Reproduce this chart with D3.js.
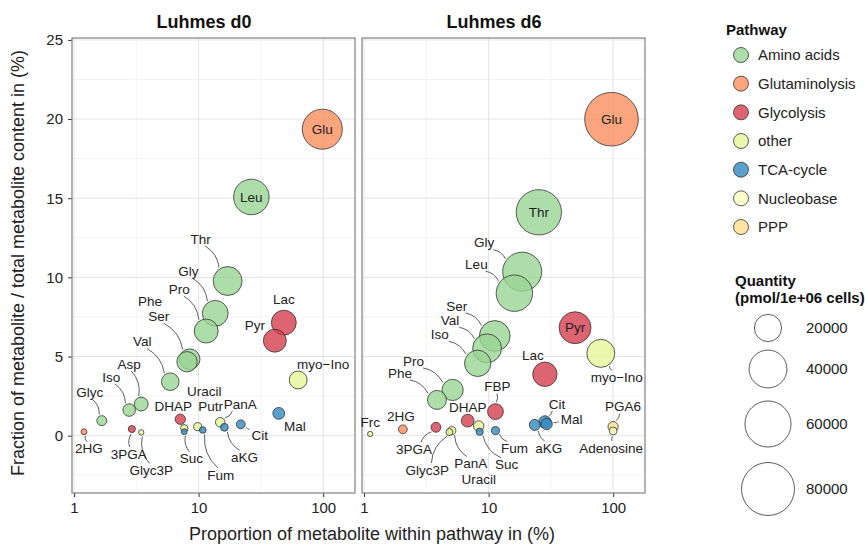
<!DOCTYPE html>
<html lang="en">
<head>
<meta charset="UTF-8">
<title>Luhmes metabolites</title>
<script src="https://d3js.org/d3.v7.min.js"></script>
<style>
    body { margin: 0; background: #fff; font-family: "Liberation Sans", Arial, sans-serif; }
    .grid-major { stroke: #e3e3e3; stroke-width: 1; }
    .grid-minor { stroke: #f3f3f3; stroke-width: 1; }
    .tick line { stroke: #333; }
    .tick text { font-size: 15px; fill: #222; }
    .lbl { font-size: 13.5px; fill: #222; }
    .leader { fill: none; stroke: #333; stroke-width: 0.8; }
</style>
</head>
<body>
<svg id="chart" width="865" height="546"></svg>
<script>
// Pathway categories and colours (legend order)
const pathways = ["Amino acids", "Glutaminolysis", "Glycolysis", "other", "TCA-cycle", "Nucleobase", "PPP"];
const pathwayColors = ["#99d594", "#f98e5c", "#d53e4f", "#e6f598", "#3288bd", "#ffffbf", "#fee08b"];

// Luhmes d0
const d0Names = ["Glu", "Leu", "Thr", "Gly", "Pro", "Ser", "Phe", "Val", "Asp", "Iso", "Glyc", "2HG", "3PGA", "Glyc3P",
                 "DHAP", "Uracil", "Suc", "Putr", "Fum", "PanA", "aKG", "Cit", "Mal", "Lac", "Pyr", "myo\u2212Ino"];
const d0Pathway = ["Glutaminolysis", "Amino acids", "Amino acids", "Amino acids", "Amino acids", "Amino acids", "Amino acids",
                   "Amino acids", "Amino acids", "Amino acids", "Amino acids", "Glutaminolysis", "Glycolysis", "other",
                   "Glycolysis", "other", "TCA-cycle", "other", "TCA-cycle", "other", "TCA-cycle", "TCA-cycle", "TCA-cycle",
                   "Glycolysis", "Glycolysis", "other"];
const d0Prop = [98.4, 26.5, 17.1, 13.6, 11.5, 8.47, 8.07, 5.92, 3.46, 2.77, 1.67, 1.2, 2.91, 3.46,
                7.13, 7.67, 7.67, 9.82, 10.8, 14.9, 16.1, 21.8, 44.0, 48.3, 40.9, 63.0];
const d0Frac = [19.36, 15.08, 9.77, 7.73, 6.61, 4.83, 4.67, 3.41, 2.0, 1.62, 0.95, 0.25, 0.42, 0.21,
                1.04, 0.47, 0.25, 0.57, 0.36, 0.85, 0.53, 0.72, 1.41, 7.14, 6.0, 3.52];
const d0Qty = [44900, 35000, 22700, 17900, 15300, 11200, 10800, 7900, 4640, 3760, 2200, 580, 975, 490,
               2410, 1090, 580, 1320, 835, 1970, 1230, 1670, 3270, 16600, 13900, 8170];

// Luhmes d6
const d6Names = ["Glu", "Thr", "Gly", "Leu", "Ser", "Val", "Iso", "Pro", "Phe", "Pyr", "myo\u2212Ino", "Lac", "FBP",
                 "DHAP", "Frc", "2HG", "3PGA", "Glyc3P", "PanA", "Uracil", "Suc", "Fum", "aKG", "Cit", "Mal", "PGA6", "Adenosine"];
const d6Pathway = ["Glutaminolysis", "Amino acids", "Amino acids", "Amino acids", "Amino acids", "Amino acids", "Amino acids",
                   "Amino acids", "Amino acids", "Glycolysis", "other", "Glycolysis", "Glycolysis", "Glycolysis", "other",
                   "Glutaminolysis", "Glycolysis", "other", "other", "other", "TCA-cycle", "TCA-cycle", "TCA-cycle",
                   "TCA-cycle", "TCA-cycle", "PPP", "Nucleobase"];
const d6Prop = [96.9, 25.3, 18.6, 16.1, 11.2, 9.72, 8.17, 5.14, 3.85, 49.4, 79.5, 28.3, 11.35,
                6.79, 1.12, 2.05, 3.78, 4.84, 5.07, 8.32, 8.48, 11.35, 23.5, 28.3, 29.2, 99.8, 99.8];
const d6Frac = [19.99, 14.11, 10.36, 9.0, 6.3, 5.52, 4.57, 2.89, 2.26, 6.82, 5.2, 3.88, 1.52,
                0.95, 0.11, 0.40, 0.53, 0.23, 0.32, 0.61, 0.25, 0.32, 0.68, 0.87, 0.74, 0.57, 0.30];
const d6Qty = [82000, 57900, 42500, 36900, 25800, 22600, 18700, 11800, 9270, 28000, 21300, 15900, 6230,
               3900, 450, 1640, 2170, 940, 1310, 2500, 1030, 1310, 2790, 3570, 3030, 2340, 1230];

// axis ticks
const xTicks = [1, 10, 100];
const xMinor = [3.162, 31.62];
const yTicks = [0, 5, 10, 15, 20, 25];
const yMinor = [-2.5, 2.5, 7.5, 12.5, 17.5, 22.5];
const sizeBreaks = [20000, 40000, 60000, 80000];

// label placement (pixel offset from the point, leader line or not)
const d0Labels = {
    "Glu": [0, 0, 0], "Leu": [0, 0, 0], "Thr": [-27, -42, 1], "Gly": [-27, -42, 1], "Pro": [-27, -42, 1],
    "Ser": [-31, -43, 1], "Phe": [-37, -60, 0], "Val": [-28, -40, 1], "Asp": [-12, -40, 1], "Iso": [-18, -33, 1],
    "Glyc": [-12, -28, 1], "2HG": [5, 17, 1], "3PGA": [-3, 25, 1], "Glyc3P": [10, 38, 1], "DHAP": [-7, -13, 1],
    "Uracil": [20, -37, 0], "Suc": [7, 27, 1], "Putr": [13, -20, 0], "Fum": [18, 45, 1], "PanA": [20, -18, 1],
    "aKG": [20, 30, 1], "Cit": [19, 11, 1], "Mal": [16, 13, 1], "Lac": [0, -23, 0], "Pyr": [-20, -15, 0],
    "myo\u2212Ino": [25, -16, 0]
};
const d6Labels = {
    "Glu": [0, 0, 0], "Thr": [0, 0, 0], "Pyr": [0, 0, 0], "Gly": [-38, -29, 1], "Leu": [-38, -29, 1],
    "Ser": [-38, -30, 1], "Val": [-37, -28, 1], "Iso": [-38, -29, 1], "Pro": [-39, -29, 1], "Phe": [-37, -27, 1],
    "Lac": [-12, -19, 0], "myo\u2212Ino": [16, 24, 1], "FBP": [2, -25, 1], "DHAP": [0, -13, 1], "Frc": [0, -12, 0],
    "2HG": [-2, -13, 0], "3PGA": [-22, 22, 1], "Glyc3P": [-22, 38, 1], "PanA": [19, 33, 1], "Uracil": [0, 53, 0],
    "Suc": [27, 33, 1], "Fum": [19, 18, 1], "aKG": [14, 23, 1], "Cit": [12, -18, 1], "Mal": [25, -5, 1],
    "PGA6": [10, -20, 1], "Adenosine": [-2, 17, 1]
};

const svg = d3.select("#chart");
const panelW = 283, panelH = 455, panelTop = 38;

const x = d3.scaleLog().domain([0.963, 180]).range([0, panelW]);
const y = d3.scaleLinear().domain([-3.62, 25.12]).range([panelH, 0]);
const r = d3.scaleSqrt().domain([0, 80000]).range([0.7, 26.5]);
const color = d3.scaleOrdinal().domain(pathways).range(pathwayColors);

function makeRows(names, pw, prop, frac, qty) {
    return names.map((n, i) => ({ name: n, pathway: pw[i], prop: prop[i], frac: frac[i], qty: qty[i] }));
}

const panels = [
    { title: "Luhmes d0", left: 72, titleX: 204, rows: makeRows(d0Names, d0Pathway, d0Prop, d0Frac, d0Qty), labels: d0Labels },
    { title: "Luhmes d6", left: 362, titleX: 494, rows: makeRows(d6Names, d6Pathway, d6Prop, d6Frac, d6Qty), labels: d6Labels }
];

panels.forEach((p, pi) => {
    const g = svg.append("g").attr("transform", `translate(${p.left},${panelTop})`);

    // grid
    g.selectAll(".gxm").data(xMinor).enter().append("line").attr("class", "grid-minor")
        .attr("x1", d => x(d)).attr("x2", d => x(d)).attr("y1", 0).attr("y2", panelH);
    g.selectAll(".gym").data(yMinor).enter().append("line").attr("class", "grid-minor")
        .attr("x1", 0).attr("x2", panelW).attr("y1", d => y(d)).attr("y2", d => y(d));
    g.selectAll(".gx").data(xTicks).enter().append("line").attr("class", "grid-major")
        .attr("x1", d => x(d)).attr("x2", d => x(d)).attr("y1", 0).attr("y2", panelH);
    g.selectAll(".gy").data(yTicks).enter().append("line").attr("class", "grid-major")
        .attr("x1", 0).attr("x2", panelW).attr("y1", d => y(d)).attr("y2", d => y(d));

    // axes
    const xAxis = g.append("g").attr("transform", `translate(0,${panelH})`)
        .call(d3.axisBottom(x).tickValues(xTicks).tickFormat(d3.format("d")).tickSize(4).tickPadding(5));
    xAxis.select(".domain").remove();
    if (pi === 0) {
        const yAxis = g.append("g")
            .call(d3.axisLeft(y).tickValues(yTicks).tickSize(4).tickPadding(5));
        yAxis.select(".domain").remove();
    }

    // panel border
    g.append("rect").attr("width", panelW).attr("height", panelH)
        .attr("fill", "none").attr("stroke", "#808080").attr("stroke-width", 1.2);

    // title
    svg.append("text").attr("x", p.titleX).attr("y", 28).attr("text-anchor", "middle")
        .style("font-size", "18px").style("font-weight", "bold").attr("fill", "#111").text(p.title);

    const rows = p.rows.slice().sort((a, b) => b.qty - a.qty);

    // bubbles
    g.selectAll(".pt").data(rows).enter().append("circle")
        .attr("cx", d => x(d.prop)).attr("cy", d => y(d.frac)).attr("r", d => r(d.qty))
        .attr("fill", d => color(d.pathway)).attr("fill-opacity", 0.8)
        .attr("stroke", "#333").attr("stroke-width", 0.8);

    // labels
    const lg = g.append("g");
    p.rows.forEach(d => {
        const lay = p.labels[d.name];
        const px = x(d.prop), py = y(d.frac), pr = r(d.qty);
        const lx = px + lay[0], ly = py + lay[1];
        const t = lg.append("text").attr("class", "lbl").attr("x", lx).attr("y", ly)
            .attr("dy", "0.35em").attr("text-anchor", "middle").text(d.name);
        if (!lay[2]) return;
        const hw = t.node().getComputedTextLength() / 2 + 2, hh = 7;
        const dx = px - lx, dy = py - ly;
        const len = Math.hypot(dx, dy);
        const ux = dx / len, uy = dy / len;
        const s = Math.min(Math.abs(dx) > 0 ? hw / Math.abs(dx) : Infinity, Math.abs(dy) > 0 ? hh / Math.abs(dy) : Infinity);
        const sx = lx + dx * s, sy = ly + dy * s;
        const ex = px - ux * (pr + 1.5), ey = py - uy * (pr + 1.5);
        const segLen = Math.hypot(ex - sx, ey - sy);
        if (segLen < 3) return;
        const mx = (sx + ex) / 2, my = (sy + ey) / 2;
        const k = 0.25;
        const cx = mx + (ey - sy) * k, cy = my - (ex - sx) * k;
        const path = d3.path();
        path.moveTo(sx, sy);
        path.quadraticCurveTo(cx, cy, ex, ey);
        lg.insert("path", "text").attr("class", "leader").attr("d", path.toString());
    });
});

// axis titles
svg.append("text").attr("x", 372).attr("y", 540).attr("text-anchor", "middle")
    .style("font-size", "18px").attr("fill", "#222").text("Proportion of metabolite within pathway in (%)");
svg.append("text").attr("transform", "translate(24,263) rotate(-90)").attr("text-anchor", "middle")
    .style("font-size", "18px").attr("fill", "#222").text("Fraction of metabolite / total metabolite content in (%)");

// pathway legend
const leg = svg.append("g");
leg.append("text").attr("x", 726).attr("y", 35).style("font-size", "15px").style("font-weight", "bold")
    .attr("fill", "#111").text("Pathway");
const itemY = d3.scalePoint().domain(pathways).range([55, 227]);
pathways.forEach(pw => {
    leg.append("circle").attr("cx", 741).attr("cy", itemY(pw)).attr("r", 7.5)
        .attr("fill", color(pw)).attr("fill-opacity", 0.8).attr("stroke", "#333").attr("stroke-width", 0.8);
    leg.append("text").attr("x", 758).attr("y", itemY(pw)).attr("dy", "0.35em")
        .style("font-size", "15px").attr("fill", "#222").text(pw);
});

// size legend
leg.append("text").attr("x", 735).attr("y", 286).style("font-size", "15px").style("font-weight", "bold")
    .attr("fill", "#111").text("Quantity");
leg.append("text").attr("x", 735).attr("y", 303).style("font-size", "15px").style("font-weight", "bold")
    .attr("fill", "#111").text("(pmol/1e+06 cells)");
const sizeY = [328, 369, 424, 489];
sizeBreaks.forEach((q, i) => {
    leg.append("circle").attr("cx", 768).attr("cy", sizeY[i]).attr("r", r(q))
        .attr("fill", "#fff").attr("stroke", "#333").attr("stroke-width", 0.8);
    leg.append("text").attr("x", 806).attr("y", sizeY[i]).attr("dy", "0.35em")
        .style("font-size", "15px").attr("fill", "#222").text(q);
});
</script>
</body>
</html>
